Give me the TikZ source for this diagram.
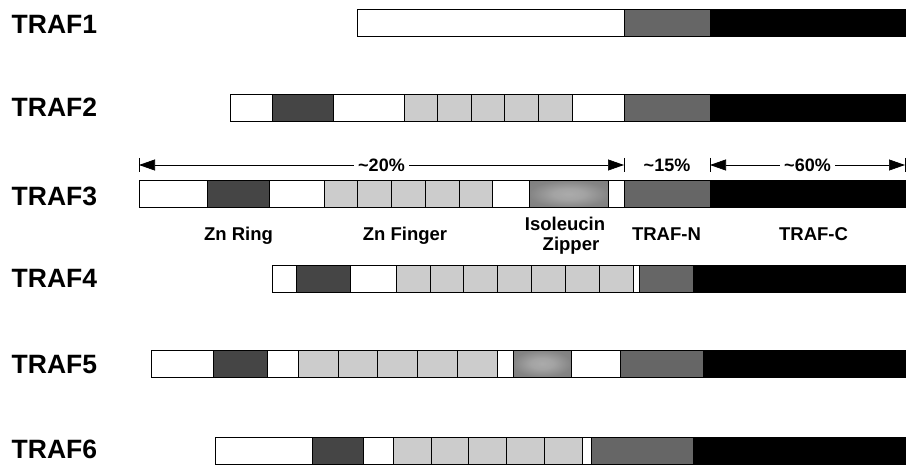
\documentclass[tikz,border=0pt]{standalone}
\usepackage{fontspec}
\setmainfont{Liberation Sans}
\usetikzlibrary{arrows.meta}
\definecolor{dgray}{gray}{0.27}
\definecolor{lgray}{gray}{0.80}
\definecolor{mgray}{gray}{0.40}
\definecolor{zin}{gray}{0.67}
\definecolor{zmid}{gray}{0.52}
\definecolor{zout}{gray}{0.46}
\pgfdeclareradialshading{zipshade}{\pgfpoint{0bp}{0bp}}{color(0bp)=(zin); color(10bp)=(zin!80!zmid); color(25bp)=(zmid); color(50bp)=(zout)}
\tikzset{
  seg/.style={draw=black, line width=0.8pt},
  segw/.style={seg, fill=white},
  segd/.style={seg, fill=dgray},
  segl/.style={seg, fill=lgray},
  segm/.style={seg, fill=mgray},
  segb/.style={seg, fill=black},
  segz/.style={seg, shading=zipshade},
  trafname/.style={anchor=base west, inner sep=0pt, font=\bfseries\fontsize{26.5}{26.5}\selectfont},
  domlabel/.style={anchor=base, inner sep=0pt, font=\bfseries\fontsize{18.5}{18.5}\selectfont},
  pct/.style={fill=white, inner sep=4pt, font=\bfseries\fontsize{18}{18}\selectfont},
  dimline/.style={line width=0.7pt, {Triangle[length=16pt,width=11pt]}-{Triangle[length=16pt,width=11pt]}},
  tickline/.style={line width=1pt},
}
\begin{document}
\begin{tikzpicture}[x=1pt,y=-1pt]
\useasboundingbox (0,0) rectangle (907,465);

% labels
\node[trafname] (n1) at (11.5,33.3) {TRAF1};
\node[trafname] (n2) at (11.5,117) {TRAF2};
\node[trafname] (n3) at (11.5,205) {TRAF3};
\node[trafname] (n4) at (11.5,287) {TRAF4};
\node[trafname] (n5) at (11.5,373) {TRAF5};
\node[trafname] (n6) at (11.5,458) {TRAF6};

% TRAF1
\path[segw] (357,9.5) rectangle (624,36.5);
\path[segm] (624,9.5) rectangle (710,36.5);
\path[segb] (710,9.5) rectangle (905,36.5);

% TRAF2
\path[segw] (230,94.2) rectangle (272,121.2);
\path[segd] (272,94.2) rectangle (333,121.2);
\path[segw] (333,94.2) rectangle (404,121.2);
\foreach \x in {404,437.6,471.2,504.8,538.4} \path[segl] (\x,94.2) rectangle ++(33.6,27);
\path[segw] (572,94.2) rectangle (624,121.2);
\path[segm] (624,94.2) rectangle (710,121.2);
\path[segb] (710,94.2) rectangle (905,121.2);

% TRAF3
\path[segw] (139,180.5) rectangle (207,207.5);
\path[segd] (207,180.5) rectangle (269,207.5);
\path[segw] (269,180.5) rectangle (324,207.5);
\foreach \x in {324,357.74,391.48,425.22,458.96} \path[segl] (\x,180.5) rectangle ++(33.74,27);
\path[segw] (492.7,180.5) rectangle (529.5,207.5);
\path[segz] (529.5,180.5) rectangle (608,207.5);
\path[segw] (608,180.5) rectangle (624,207.5);
\path[segm] (624,180.5) rectangle (710,207.5);
\path[segb] (710,180.5) rectangle (905,207.5);

% TRAF4
\path[segw] (272,265) rectangle (296,292);
\path[segd] (296,265) rectangle (350,292);
\path[segw] (350,265) rectangle (396,292);
\foreach \x in {396,429.93,463.86,497.79,531.72,565.65,599.58} \path[segl] (\x,265) rectangle ++(33.93,27);
\path[segw] (633.5,265) rectangle (639,292);
\path[segm] (639,265) rectangle (693,292);
\path[segb] (693,265) rectangle (905,292);

% TRAF5
\path[segw] (151.5,350) rectangle (213.5,377);
\path[segd] (213.5,350) rectangle (267,377);
\path[segw] (267,350) rectangle (298,377);
\foreach \x in {298,337.9,377.8,417.7,457.6} \path[segl] (\x,350) rectangle ++(39.9,27);
\path[segw] (497.5,350) rectangle (513,377);
\path[segz] (513,350) rectangle (571,377);
\path[segw] (571,350) rectangle (620,377);
\path[segm] (620,350) rectangle (703,377);
\path[segb] (703,350) rectangle (905,377);

% TRAF6
\path[segw] (215,437) rectangle (312,464);
\path[segd] (312,437) rectangle (363,464);
\path[segw] (363,437) rectangle (393,464);
\foreach \x in {393,430.9,468.8,506.7,544.6} \path[segl] (\x,437) rectangle ++(37.9,27);
\path[segw] (582.5,437) rectangle (591,464);
\path[segm] (591,437) rectangle (693,464);
\path[segb] (693,437) rectangle (905,464);

% dimension arrows
\coordinate (t1) at (139,165);
\coordinate (t2) at (624,165);
\coordinate (t3) at (710,165);
\coordinate (t4) at (905,165);
\foreach \t in {t1,t2,t3,t4} \draw[tickline] ([yshift=7pt]\t) -- ([yshift=-7pt]\t);
\draw[dimline] (t1) -- node[pct] (p20) {\textasciitilde20\%} (t2);
\draw[dimline] (t3) -- node[pct] (p60) {\textasciitilde60\%} (t4);
\node[pct, fill=none] (p15) at (667,165.5) {\textasciitilde15\%};

% domain labels
\node[domlabel] (zr) at (238.5,240.5) {Zn Ring};
\node[domlabel] (zf) at (405,240.5) {Zn Finger};
\node[domlabel] (iso) at (565,230.7) {Isoleucin};
\node[domlabel] (zip) at (571,250) {Zipper};
\node[domlabel] (tn) at (666.5,240.5) {TRAF-N};
\node[domlabel] (tc) at (813.5,240.5) {TRAF-C};
\end{tikzpicture}
\end{document}
